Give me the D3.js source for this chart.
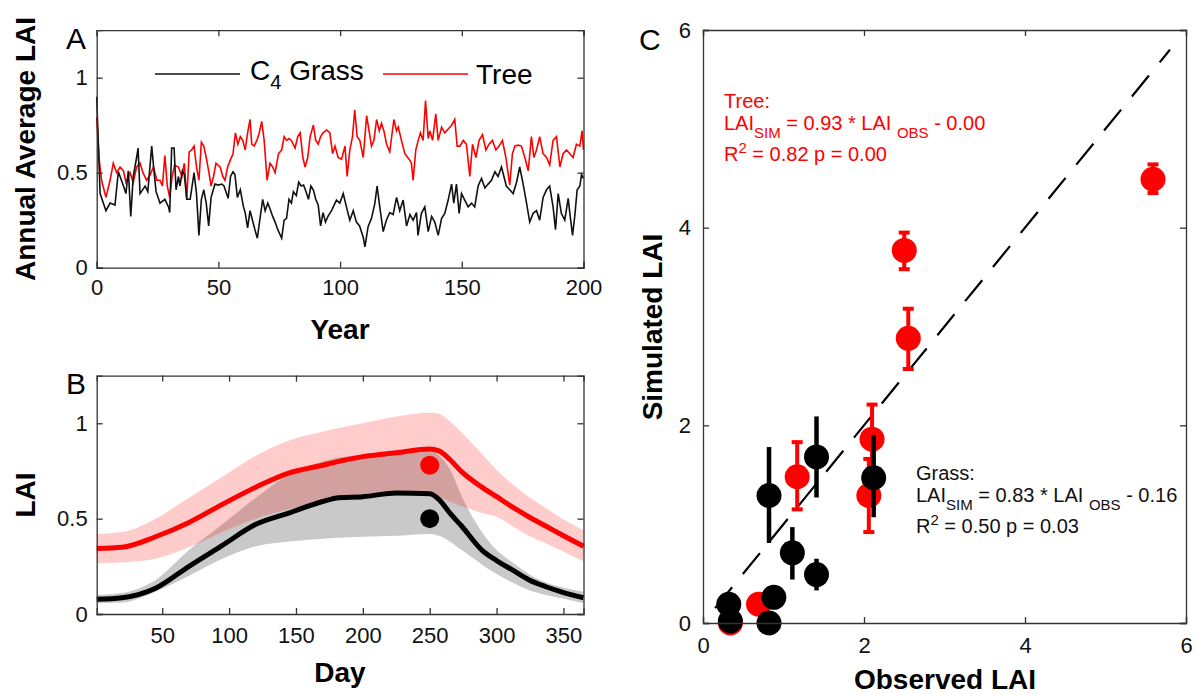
<!DOCTYPE html>
<html lang="en">

<head>
    <meta charset="UTF-8">
    <title>LAI: grass vs tree</title>
    <script src="https://d3js.org/d3.v7.min.js"></script>
    <style>
        body {
            margin: 0;
            background: white;
            font-family: "Liberation Sans", Arial, sans-serif;
        }

        .tick text {
            font-size: 22px;
            fill: #111;
        }

        .axis path,
        .axis line {
            stroke: #333;
            stroke-width: 1.3px;
        }

        .axis-label {
            font-size: 28px;
            font-weight: bold;
            text-anchor: middle;
        }

        .panel-letter {
            font-size: 30px;
        }
    </style>
</head>

<body>
    <svg id="svg" width="1199" height="694"></svg>

    <script>
        // ---- Panel A: annual average LAI, [year, value]
        const grassAnnual = [[0, 0.90], [1.4, 0.39], [3.8, 0.30], [5.5, 0.34], [7.5, 0.33], [8.9, 0.505], [11, 0.43], [12, 0.39], [13, 0.51], [14, 0.27], [15, 0.48], [16.4, 0.58], [17, 0.63], [17.8, 0.39], [19.9, 0.43], [21, 0.40], [22.6, 0.64], [23.6, 0.50], [24.4, 0.40], [26, 0.34], [28, 0.36], [29.5, 0.32], [30, 0.29], [30.8, 0.63], [31.8, 0.63], [32.6, 0.41], [33.6, 0.48], [34.2, 0.43], [35.2, 0.51], [36, 0.49], [37, 0.36], [38.4, 0.36], [40, 0.50], [41, 0.39], [42, 0.17], [43, 0.36], [44, 0.41], [45, 0.34], [46, 0.22], [47, 0.37], [48.6, 0.44], [50, 0.435], [51.4, 0.44], [52.3, 0.43], [54, 0.365], [55, 0.48], [56, 0.505], [56.8, 0.49], [57.8, 0.37], [59, 0.41], [60.3, 0.32], [61, 0.29], [62, 0.21], [63, 0.30], [64, 0.25], [65, 0.20], [66, 0.155], [67, 0.25], [68.2, 0.36], [69.2, 0.30], [70.3, 0.34], [71.2, 0.31], [72.3, 0.27], [73.3, 0.24], [74.4, 0.20], [76, 0.155], [77, 0.25], [78, 0.26], [79, 0.36], [80, 0.34], [80.8, 0.40], [82, 0.38], [83, 0.45], [84, 0.43], [85, 0.435], [86, 0.40], [87, 0.36], [88, 0.43], [89, 0.41], [90, 0.36], [91, 0.33], [92, 0.22], [93, 0.29], [94, 0.24], [95, 0.27],
        [96.5, 0.30], [97.2, 0.32], [98.5, 0.356], [99.9, 0.34], [101.3, 0.39], [102.6, 0.32], [104, 0.25], [105.4, 0.30], [106.7, 0.24], [108, 0.22], [109.5, 0.16], [110.2, 0.11], [111.5, 0.216], [112.9, 0.26], [114.3, 0.34], [115.2, 0.43], [116.3, 0.32], [117.7, 0.19], [119, 0.25], [120.4, 0.29], [121.8, 0.28], [123.2, 0.37], [124.5, 0.30], [125.9, 0.356], [127.3, 0.22], [128.7, 0.28], [130, 0.25], [131.4, 0.29], [132, 0.17], [133.4, 0.286], [134.8, 0.32], [136.2, 0.19], [137.6, 0.27], [138.9, 0.24], [140.3, 0.17], [141.7, 0.26], [143, 0.286], [144.4, 0.356], [145.8, 0.44], [146.7, 0.34], [147.8, 0.44], [148.9, 0.286], [149.9, 0.39], [151.2, 0.356], [152.6, 0.32], [154, 0.34], [155.3, 0.32], [156.7, 0.43], [158.1, 0.47], [159.5, 0.42], [160.8, 0.44], [162.2, 0.46], [163.6, 0.505], [164.9, 0.48], [166.3, 0.53], [167.7, 0.46], [168.3, 0.43], [169.7, 0.41], [171.1, 0.39], [172.5, 0.45], [173.8, 0.53], [175.2, 0.44], [176.6, 0.34], [177.9, 0.24], [179.3, 0.286], [180.7, 0.30], [182, 0.25], [183.4, 0.37], [184.8, 0.41], [186.1, 0.43], [187.5, 0.32], [188.5, 0.20], [189.6, 0.39], [190.9, 0.286], [192.3, 0.25], [193.7, 0.365], [194.4, 0.286], [195.5, 0.17], [196.4, 0.27], [197.4, 0.41], [198.5, 0.43], [199.2, 0.49], [200, 0.47]];

        const treeAnnual = [[0, 0.79], [1, 0.57], [2, 0.46], [3.8, 0.37], [5.5, 0.46], [6.8, 0.55], [8.2, 0.50], [9.6, 0.53], [11, 0.51], [12, 0.45], [13.7, 0.50], [15, 0.45], [16.4, 0.53], [17.8, 0.55], [19, 0.50], [20.5, 0.46], [22, 0.49], [23.3, 0.53], [24.7, 0.46], [26, 0.46], [27, 0.43], [28, 0.59], [29, 0.43], [30, 0.37], [31, 0.48], [32, 0.54], [33.6, 0.53], [35, 0.48], [36, 0.55], [37, 0.36], [38, 0.61], [39, 0.62], [40, 0.64], [41, 0.53], [42, 0.46], [43, 0.66], [44, 0.64], [45, 0.58], [46, 0.51], [47, 0.43], [48, 0.48], [49, 0.55], [50.7, 0.53], [51.8, 0.48], [52.7, 0.46], [53.8, 0.53], [55, 0.57], [56, 0.60], [57, 0.71], [58, 0.65], [59, 0.69], [60, 0.67], [61, 0.62], [62, 0.71], [63, 0.78], [63.7, 0.65], [64.7, 0.64], [65.8, 0.67], [66.8, 0.71], [67.8, 0.77], [68.8, 0.67], [70, 0.46], [71.2, 0.55], [72.3, 0.53], [73.3, 0.50], [74.7, 0.60], [76, 0.62], [77, 0.69], [78, 0.67], [79, 0.68], [80, 0.67], [81.5, 0.63], [82.6, 0.69], [83.6, 0.71], [84.7, 0.58], [85.6, 0.53], [86.7, 0.58], [87.7, 0.69], [89, 0.75], [90, 0.67], [91, 0.65], [92, 0.69], [93, 0.71], [94.5, 0.725],
        [95.8, 0.71], [96.9, 0.60], [97.9, 0.64], [99.2, 0.58], [100.6, 0.57], [102, 0.64], [102.9, 0.48], [104, 0.62], [105.1, 0.69], [106, 0.83], [107, 0.69], [108.1, 0.67], [109.5, 0.58], [110.9, 0.80], [111.9, 0.72], [112.9, 0.64], [113.9, 0.67], [115, 0.78], [116.1, 0.72], [117, 0.76], [118, 0.72], [119.1, 0.65], [120.4, 0.61], [122.1, 0.78], [123.2, 0.72], [123.9, 0.74], [125.2, 0.67], [126.6, 0.60], [128.4, 0.57], [129.3, 0.55], [130, 0.46], [131.1, 0.62], [132.1, 0.67], [133, 0.71], [134.1, 0.67], [135.1, 0.88], [136.2, 0.68], [136.9, 0.72], [138, 0.67], [139.3, 0.81], [140.3, 0.67], [141.7, 0.74], [143, 0.71], [144.4, 0.73], [145.8, 0.75], [147.1, 0.78], [148.1, 0.64], [149.2, 0.64], [150.6, 0.67], [151.9, 0.65], [153.3, 0.48], [154.4, 0.65], [155.8, 0.58], [157.1, 0.67], [158.5, 0.70], [159.9, 0.62], [161.2, 0.65], [162.6, 0.67], [164, 0.62], [165.3, 0.64], [166.7, 0.67], [168.1, 0.58], [169.7, 0.435], [170.8, 0.60], [171.8, 0.64], [173.1, 0.645], [174.5, 0.64], [175.9, 0.58], [177.3, 0.51], [178.6, 0.69], [179.6, 0.58], [180.7, 0.62], [182, 0.69], [183.4, 0.60], [184.8, 0.58], [186.1, 0.54], [187.5, 0.67], [188.9, 0.69], [190.3, 0.53], [191.6, 0.60], [193, 0.62], [194.4, 0.60], [195.7, 0.58], [197.1, 0.65], [198.5, 0.64], [199.4, 0.72], [200, 0.62]];

        // ---- Panel B: seasonal cycle, mean and spread
        const days = [1, 20, 45, 70, 95, 120, 145, 170, 182, 200, 225, 250, 257, 265, 274, 289, 300, 312, 324, 337, 349, 365];
        const treeMean = [0.344, 0.35, 0.405, 0.48, 0.575, 0.665, 0.74, 0.78, 0.80, 0.825, 0.845, 0.865, 0.855, 0.81, 0.745, 0.665, 0.615, 0.56, 0.51, 0.46, 0.414, 0.355];
        const treeHi = [0.42, 0.43, 0.50, 0.61, 0.72, 0.83, 0.91, 0.955, 0.975, 1.0, 1.035, 1.055, 1.05, 1.01, 0.95, 0.84, 0.755, 0.68, 0.615, 0.555, 0.50, 0.44];
        const treeLo = [0.266, 0.27, 0.29, 0.35, 0.43, 0.50, 0.55, 0.59, 0.60, 0.61, 0.62, 0.625, 0.615, 0.59, 0.565, 0.53, 0.51, 0.46, 0.41, 0.37, 0.33, 0.275];
        const grassMean = [0.077, 0.085, 0.135, 0.25, 0.36, 0.47, 0.53, 0.59, 0.61, 0.615, 0.635, 0.63, 0.60, 0.53, 0.46, 0.335, 0.28, 0.23, 0.18, 0.143, 0.115, 0.085];
        const grassHi = [0.10, 0.11, 0.178, 0.335, 0.47, 0.61, 0.73, 0.80, 0.82, 0.835, 0.845, 0.86, 0.83, 0.76, 0.615, 0.43, 0.335, 0.27, 0.21, 0.165, 0.14, 0.117];
        const grassLo = [0.056, 0.06, 0.117, 0.20, 0.29, 0.355, 0.38, 0.395, 0.40, 0.405, 0.41, 0.42, 0.41, 0.38, 0.335, 0.26, 0.21, 0.165, 0.126, 0.10, 0.082, 0.056];
        const obsDay = 250;
        const obsTree = 0.78;
        const obsGrass = 0.50;

        // ---- Panel C: observed vs simulated LAI (with error bar ends)
        const treeObs = [0.34, 0.69, 1.17, 2.10, 2.06, 5.59, 2.50, 2.55];
        const treeSim = [0.00, 0.19, 1.48, 1.86, 1.29, 4.49, 3.77, 2.88];
        const treeSimLo = [0.00, 0.19, 1.15, 1.52, 0.92, 4.35, 3.58, 2.57];
        const treeSimHi = [0.00, 0.19, 1.83, 2.21, 1.66, 4.64, 3.95, 3.18];
        const grassObs = [0.32, 0.34, 0.82, 0.88, 0.82, 1.11, 1.41, 1.41, 2.12];
        const grassSim = [0.19, 0.02, 0.00, 0.26, 1.29, 0.71, 0.49, 1.68, 1.47];
        const grassSimLo = [0.10, 0.02, 0.00, 0.18, 0.81, 0.44, 0.33, 1.27, 1.07];
        const grassSimHi = [0.29, 0.02, 0.00, 0.34, 1.78, 0.97, 0.65, 2.09, 1.90];
        const oneToOne = [0.15, 5.8];

        const RED = "#ff0000";

        const svg = d3.select("#svg");

        // helper: framed axes with inward ticks on all four sides
        function frame(g, x, y, opts) {
            const [x0, x1] = x.range();
            const [y0, y1] = y.range();
            g.append("g").attr("class", "axis")
                .attr("transform", `translate(0,${y0})`)
                .call(d3.axisBottom(x).tickValues(opts.xTicks).tickSize(-6).tickPadding(opts.xPad)
                    .tickFormat(opts.xFmt || d3.format("")));
            g.append("g").attr("class", "axis")
                .attr("transform", `translate(0,${y1})`)
                .call(d3.axisTop(x).tickValues(opts.xTicks).tickSize(-6).tickFormat(""));
            g.append("g").attr("class", "axis")
                .attr("transform", `translate(${x0},0)`)
                .call(d3.axisLeft(y).tickValues(opts.yTicks).tickSize(-6).tickPadding(opts.yPad)
                    .tickFormat(opts.yFmt || d3.format("")));
            g.append("g").attr("class", "axis")
                .attr("transform", `translate(${x1},0)`)
                .call(d3.axisRight(y).tickValues(opts.yTicks).tickSize(-6).tickFormat(""));
            g.selectAll(".axis .domain").attr("stroke", "#333");
            g.selectAll(".tick text").attr("font-family", "'Liberation Sans', Arial, sans-serif");
        }

        // ================= Panel A =================
        const xA = d3.scaleLinear().domain([0, 200]).range([96.7, 583.5]);
        const yA = d3.scaleLinear().domain([0, 1.25]).range([267.7, 30.2]);
        const gA = svg.append("g");

        const lineA = d3.line().x(d => xA(d[0])).y(d => yA(d[1]));
        gA.append("path").datum(treeAnnual).attr("d", lineA)
            .attr("fill", "none").attr("stroke", RED).attr("stroke-width", 1.6);
        gA.append("path").datum(grassAnnual).attr("d", lineA)
            .attr("fill", "none").attr("stroke", "#111").attr("stroke-width", 1.6);

        frame(gA, xA, yA, { xTicks: [0, 50, 100, 150, 200], yTicks: [0, 0.5, 1], xPad: 12, yPad: 9 });

        // legend
        gA.append("line").attr("x1", 155).attr("x2", 240).attr("y1", 74).attr("y2", 74)
            .attr("stroke", "#111").attr("stroke-width", 1.6);
        const leg1 = gA.append("text").attr("x", 250).attr("y", 80).attr("font-size", 28);
        leg1.append("tspan").text("C");
        leg1.append("tspan").attr("dy", 9).attr("font-size", 20).text("4");
        leg1.append("tspan").attr("dy", -9).text(" Grass");
        gA.append("line").attr("x1", 383).attr("x2", 468).attr("y1", 74).attr("y2", 74)
            .attr("stroke", RED).attr("stroke-width", 1.6);
        gA.append("text").attr("x", 476).attr("y", 84).attr("font-size", 28).text("Tree");

        svg.append("text").attr("class", "panel-letter").attr("x", 66).attr("y", 49).text("A");
        svg.append("text").attr("class", "axis-label").attr("x", 340).attr("y", 339).text("Year");
        svg.append("text").attr("class", "axis-label")
            .attr("transform", "translate(35,149) rotate(-90)").text("Annual Average LAI");

        // ================= Panel B =================
        const xB = d3.scaleLinear().domain([1, 365]).range([96.7, 583.5]);
        const yB = d3.scaleLinear().domain([0, 1.25]).range([614, 375.6]);
        const gB = svg.append("g");

        const band = (lo, hi) => d3.area().curve(d3.curveMonotoneX)
            .x((d, i) => xB(days[i])).y0((d, i) => yB(lo[i])).y1((d, i) => yB(hi[i]));
        const lineB = vals => d3.line().curve(d3.curveMonotoneX)
            .x((d, i) => xB(days[i])).y((d, i) => yB(vals[i]));

        gB.append("path").datum(days).attr("d", band(grassLo, grassHi)).attr("fill", "#c9c9c9");
        gB.append("path").datum(days).attr("d", band(treeLo, treeHi)).attr("fill", RED).attr("fill-opacity", 0.2);
        gB.append("path").datum(days).attr("d", lineB(grassMean))
            .attr("fill", "none").attr("stroke", "#000").attr("stroke-width", 5);
        gB.append("path").datum(days).attr("d", lineB(treeMean))
            .attr("fill", "none").attr("stroke", RED).attr("stroke-width", 5);
        gB.append("circle").attr("cx", xB(obsDay)).attr("cy", yB(obsTree)).attr("r", 9.5).attr("fill", RED);
        gB.append("circle").attr("cx", xB(obsDay)).attr("cy", yB(obsGrass)).attr("r", 9.5).attr("fill", "#000");

        frame(gB, xB, yB, { xTicks: [50, 100, 150, 200, 250, 300, 350], yTicks: [0, 0.5, 1], xPad: 13, yPad: 9 });

        svg.append("text").attr("class", "panel-letter").attr("x", 66).attr("y", 394).text("B");
        svg.append("text").attr("class", "axis-label").attr("x", 340).attr("y", 682).text("Day");
        svg.append("text").attr("class", "axis-label")
            .attr("transform", "translate(35,495) rotate(-90)").text("LAI");

        // ================= Panel C =================
        const xC = d3.scaleLinear().domain([0, 6]).range([703, 1186]);
        const yC = d3.scaleLinear().domain([0, 6]).range([623, 30]);
        const gC = svg.append("g");

        gC.append("line")
            .attr("x1", xC(oneToOne[0])).attr("y1", yC(oneToOne[0]))
            .attr("x2", xC(oneToOne[1])).attr("y2", yC(oneToOne[1]))
            .attr("stroke", "#000").attr("stroke-width", 2.2).attr("stroke-dasharray", "27,17");

        // tree points (red) with capped error bars
        const treePts = treeObs.map((o, i) => ({ o, s: treeSim[i], lo: treeSimLo[i], hi: treeSimHi[i] }));
        const tg = gC.append("g");
        tg.selectAll(".tbar").data(treePts.filter(d => d.hi > d.lo)).enter().append("line")
            .attr("x1", d => xC(d.o)).attr("x2", d => xC(d.o))
            .attr("y1", d => yC(d.lo)).attr("y2", d => yC(d.hi))
            .attr("stroke", RED).attr("stroke-width", 4);
        ["lo", "hi"].forEach(k => {
            tg.selectAll(".tcap-" + k).data(treePts.filter(d => d.hi > d.lo)).enter().append("rect")
                .attr("x", d => xC(d.o) - 5.5).attr("y", d => yC(d[k]) - 2)
                .attr("width", 11).attr("height", 4).attr("fill", RED);
        });
        tg.selectAll(".tpt").data(treePts).enter().append("circle")
            .attr("cx", d => xC(d.o)).attr("cy", d => yC(d.s)).attr("r", 12.5).attr("fill", RED);

        // grass points (black)
        const grassPts = grassObs.map((o, i) => ({ o, s: grassSim[i], lo: grassSimLo[i], hi: grassSimHi[i] }));
        const bg = gC.append("g");
        bg.selectAll(".gbar").data(grassPts.filter(d => d.hi > d.lo)).enter().append("line")
            .attr("x1", d => xC(d.o)).attr("x2", d => xC(d.o))
            .attr("y1", d => yC(d.lo)).attr("y2", d => yC(d.hi))
            .attr("stroke", "#000").attr("stroke-width", 4.5);
        bg.selectAll(".gpt").data(grassPts).enter().append("circle")
            .attr("cx", d => xC(d.o)).attr("cy", d => yC(d.s)).attr("r", 12.5).attr("fill", "#000");

        frame(gC, xC, yC, { xTicks: [0, 2, 4, 6], yTicks: [0, 2, 4, 6], xPad: 14, yPad: 12 });

        // regression annotations
        function annot(x, y, color, head, slope, icpt, r2, p) {
            const g = gC.append("g").attr("fill", color).attr("font-size", 20);
            g.append("text").attr("x", x).attr("y", y).text(head);
            const t = g.append("text").attr("x", x).attr("y", y + 22);
            t.append("tspan").text("LAI");
            t.append("tspan").attr("dy", 8).attr("font-size", 15).text("SIM");
            t.append("tspan").attr("dy", -8).text(` = ${slope} * LAI `);
            t.append("tspan").attr("dy", 8).attr("font-size", 15).text("OBS");
            t.append("tspan").attr("dy", -8).text(` - ${icpt}`);
            const r = g.append("text").attr("x", x).attr("y", y + 53);
            r.append("tspan").text("R");
            r.append("tspan").attr("dy", -8).attr("font-size", 15).text("2");
            r.append("tspan").attr("dy", 8).text(` = ${r2} p = ${p}`);
        }
        annot(724, 108, RED, "Tree:", "0.93", "0.00", "0.82", "0.00");
        annot(916, 480, "#111", "Grass:", "0.83", "0.16", "0.50", "0.03");

        svg.append("text").attr("class", "panel-letter").attr("x", 639).attr("y", 50).text("C");
        svg.append("text").attr("class", "axis-label").attr("x", 945).attr("y", 689).text("Observed LAI");
        svg.append("text").attr("class", "axis-label")
            .attr("transform", "translate(662,327) rotate(-90)").text("Simulated LAI");
    </script>

</body>

</html>
